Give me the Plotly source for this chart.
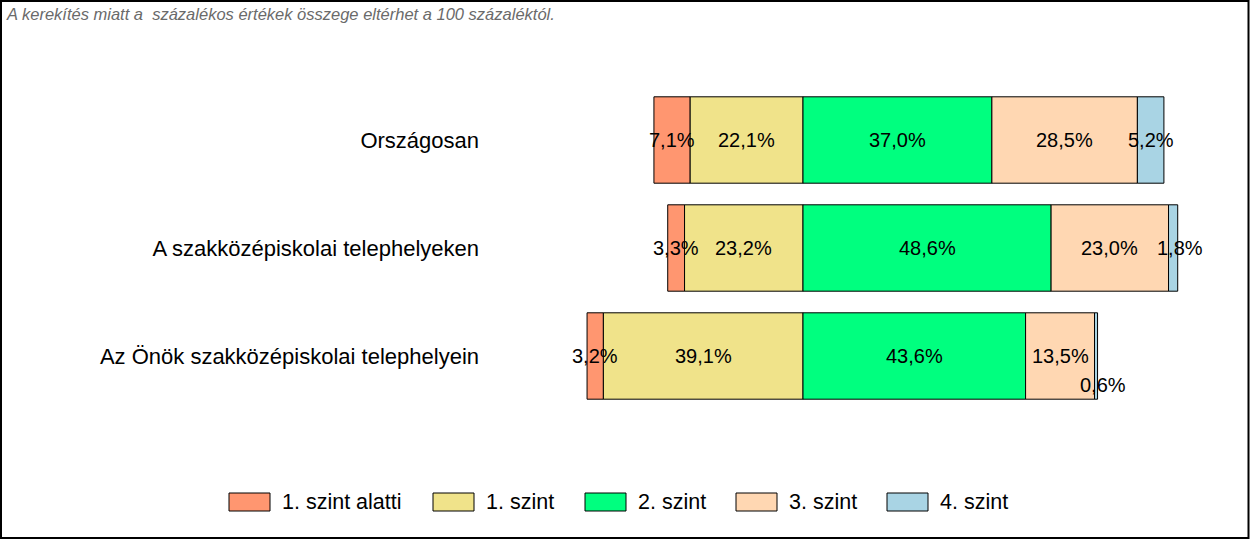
import plotly.graph_objects as go

categories = ["Országosan", "A szakközépiskolai telephelyeken", "Az Önök szakközépiskolai telephelyein"]
series_names = ["1. szint alatti", "1. szint", "2. szint", "3. szint", "4. szint"]
below1 = [7.1, 3.3, 3.2]
lvl1 = [22.1, 23.2, 39.1]
lvl2 = [37.0, 48.6, 43.6]
lvl3 = [28.5, 23.0, 13.5]
lvl4 = [5.2, 1.8, 0.6]
note = "A kerekítés miatt a  százalékos értékek összege eltérhet a 100 százaléktól."

colors = ["#FF9670", "#F0E38A", "#00FF7F", "#FFD7B2", "#A9D4E4"]
series = [below1, lvl1, lvl2, lvl3, lvl4]

W, H = 1250, 541
FONT = "Liberation Sans, Arial, sans-serif"

# bases: first two series go left of zero, rest right
n = len(categories)
bases = []
for i in range(len(series)):
    b = []
    for j in range(n):
        if i < 2:
            b.append(-sum(series[k][j] for k in range(i, 2)))
        else:
            b.append(sum(series[k][j] for k in range(2, i)))
    bases.append(b)

fig = go.Figure()
ypos = list(range(n))
for i, (name, vals) in enumerate(zip(series_names, series)):
    fig.add_trace(go.Bar(
        y=ypos, x=vals, base=bases[i], orientation="h", name=name,
        marker=dict(color=colors[i], line=dict(color="black", width=1)),
        width=0.8, showlegend=False, hoverinfo="skip",
    ))

annotations = []
for i, vals in enumerate(series):
    for j in range(n):
        v = vals[j]
        cx = bases[i][j] + v / 2
        xs, ys = 0, 0
        if i == len(series) - 1 and v < 2:
            xs = 7
        if v < 1:
            ys = -29
        annotations.append(dict(
            x=cx, y=ypos[j], xref="x", yref="y", text=f"{v:.1f}".replace(".", ",") + "%",
            showarrow=False, xshift=xs, yshift=ys,
            font=dict(family=FONT, size=20, color="black"),
        ))

annotations.append(dict(
    x=4 / W, y=1 - 3 / H, xref="paper", yref="paper", xanchor="left", yanchor="top",
    text="<i>" + note.replace("  ", " &nbsp;") + "</i>", showarrow=False,
    font=dict(family=FONT, size=16.5, color="#6A6A6A"),
))

# manual legend
leg_box_x = [229, 433, 585, 736, 887]
shapes = []
for k, name in enumerate(series_names):
    x0 = leg_box_x[k]
    shapes.append(dict(type="rect", xref="paper", yref="paper",
                       x0=x0 / W, x1=(x0 + 41) / W, y0=1 - 511 / H, y1=1 - 493 / H,
                       fillcolor=colors[k], line=dict(color="black", width=1)))
    annotations.append(dict(x=(x0 + 51) / W, y=1 - 502 / H, xref="paper", yref="paper",
                            xanchor="left", yanchor="middle", text=name, showarrow=False,
                            font=dict(family=FONT, size=21.5, color="black")))

# outer frame
shapes.append(dict(type="rect", xref="paper", yref="paper",
                   x0=1 / W, x1=1248.5 / W, y0=1 - 538 / H, y1=1 - 1 / H,
                   line=dict(color="black", width=2), fillcolor="rgba(0,0,0,0)"))

zero_px = 803
scale = 5.105
dom0 = 490
xr = [-(zero_px - dom0) / scale, (W - zero_px) / scale]

top_center = 140
step = 108
y_top = -top_center / step
y_bot = y_top + H / step

fig.update_layout(
    width=W, height=H, margin=dict(l=0, r=0, t=0, b=0, pad=0),
    paper_bgcolor="white", plot_bgcolor="white",
    barmode="overlay",
    xaxis=dict(domain=[dom0 / W, 1], range=xr, visible=False, fixedrange=True),
    yaxis=dict(range=[y_bot, y_top], tickmode="array", tickvals=ypos, ticktext=categories,
               showgrid=False, zeroline=False, showline=False, ticks="",
               ticklabelstandoff=10,
               tickfont=dict(family=FONT, size=22, color="black")),
    annotations=annotations, shapes=shapes,
    font=dict(family=FONT),
)

fig.write_html("out.html")
